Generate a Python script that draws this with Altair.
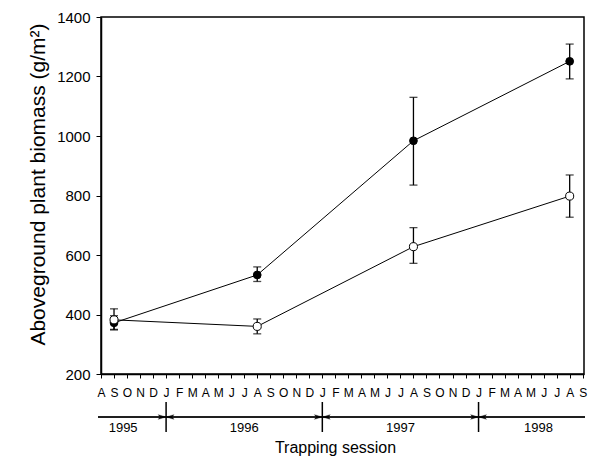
import altair as alt
import pandas as pd

# ---- data ----
months = ["A", "S", "O", "N", "D",
          "J", "F", "M", "A", "M", "J", "J", "A", "S", "O", "N", "D",
          "J", "F", "M", "A", "M", "J", "J", "A", "S", "O", "N", "D",
          "J", "F", "M", "A", "M", "J", "J", "A", "S"]
session_idx = [1, 12, 24, 36]          # Sep 1995, Aug 1996, Aug 1997, Aug 1998
filled_mean = [372, 533, 984, 1251]
filled_lo = [350, 511, 835, 1192]
filled_hi = [396, 560, 1130, 1309]
open_mean = [382, 360, 628, 798]
open_lo = [348, 335, 572, 727]
open_hi = [419, 385, 692, 869]
years = ["1995", "1996", "1997", "1998"]
year_label_idx = [1.7, 11, 23, 33.6]
year_breaks = [5, 17, 29]
y_ticks = [200, 400, 600, 800, 1000, 1200, 1400]

FONT = "Arial, Liberation Sans, sans-serif"
W, H = 483, 357

filled_df = pd.DataFrame({"idx": session_idx, "mean": filled_mean, "lo": filled_lo, "hi": filled_hi})
open_df = pd.DataFrame({"idx": session_idx, "mean": open_mean, "lo": open_lo, "hi": open_hi})
years_df = pd.DataFrame({"idx": year_label_idx, "year": years})
breaks_df = pd.DataFrame({"idx": year_breaks})

x_scale = alt.Scale(domain=[0, 37.1], nice=False, zero=False)
y_scale = alt.Scale(domain=[200, 1400], nice=False, zero=False)

label_expr = "[" + ",".join("'" + m + "'" for m in months) + "][datum.value]"

x_axis = alt.Axis(
    values=list(range(len(months))), labelExpr=label_expr, labelFontSize=12,
    labelPadding=9, tickSize=4, labelFlush=False, labelOverlap=False, labelAngle=0,
    title="Trapping session", titleFontSize=16, titleFontWeight="normal",
    titleX=234, titleY=78, titleBaseline="alphabetic", titleAlign="center",
    domainColor="black", tickColor="black", labelColor="black", titleColor="black",
    domainWidth=1.5, grid=False,
)
y_axis = alt.Axis(
    values=y_ticks, format="d", labelFontSize=15, labelPadding=6, tickSize=5,
    title="Aboveground plant biomass (g/m²)", titleFontSize=21, titleFontWeight="normal",
    titleX=-57, titleY=167, titleAngle=-90, titleBaseline="alphabetic", titleAlign="center",
    domainColor="black", tickColor="black", labelColor="black", titleColor="black",
    domainWidth=1.5, grid=False,
)

X = alt.X("idx:Q", scale=x_scale, axis=x_axis, title="Trapping session")


def Yf(field):
    return alt.Y(field + ":Q", scale=y_scale, axis=y_axis, title="Aboveground plant biomass (g/m²)")


filled_line = alt.Chart(filled_df).mark_line(color="black", strokeWidth=1).encode(x=X, y=Yf("mean"))
open_line = alt.Chart(open_df).mark_line(color="black", strokeWidth=1).encode(x=X, y=Yf("mean"))


def errbars(df):
    rule = alt.Chart(df).mark_rule(color="black", strokeWidth=1.3).encode(
        x=X, y=Yf("lo"), y2="hi:Q")
    cap_lo = alt.Chart(df).mark_tick(orient="horizontal", size=8, thickness=1.3, color="black").encode(
        x=X, y=Yf("lo"))
    cap_hi = alt.Chart(df).mark_tick(orient="horizontal", size=8, thickness=1.3, color="black").encode(
        x=X, y=Yf("hi"))
    return rule + cap_lo + cap_hi


filled_pts = alt.Chart(filled_df).mark_point(
    shape="circle", filled=True, fill="black", stroke="black", strokeWidth=1, size=60, opacity=1
).encode(x=X, y=Yf("mean"))
open_pts = alt.Chart(open_df).mark_point(
    shape="circle", filled=True, fill="white", stroke="black", strokeWidth=1, size=65, opacity=1
).encode(x=X, y=Yf("mean"))

# ---- year band below the axis ----
band_line = alt.Chart(breaks_df).mark_rule(color="black", strokeWidth=1).encode(
    x=alt.value(-3), x2=alt.value(W + 1), y=alt.value(400))
dividers = alt.Chart(breaks_df).mark_rule(color="black", strokeWidth=1.5).encode(
    x=X, y=alt.value(385), y2=alt.value(415))
arrow_r = alt.Chart(breaks_df).mark_point(
    shape="M0,0L-1,-0.3L-0.75,0L-1,0.3Z", filled=True, fill="black", stroke="black",
    strokeWidth=0.3, size=250, opacity=1
).encode(x=X, y=alt.value(400))
arrow_l = alt.Chart(breaks_df).mark_point(
    shape="M0,0L1,-0.3L0.75,0L1,0.3Z", filled=True, fill="black", stroke="black",
    strokeWidth=0.3, size=250, opacity=1
).encode(x=X, y=alt.value(400))
year_text = alt.Chart(years_df).mark_text(
    fontSize=13, baseline="alphabetic", align="center", color="black", font=FONT
).encode(x=X, y=alt.value(415), text="year:N")

chart = alt.layer(
    filled_line, open_line,
    errbars(filled_df), filled_pts,
    errbars(open_df), open_pts,
    band_line, dividers, arrow_r, arrow_l, year_text,
).properties(
    width=W, height=H,
    autosize=alt.AutoSizeParams(type="none"),
    padding={"left": 93, "top": 9, "right": 8, "bottom": 88},
).configure(
    font=FONT,
).configure_view(
    stroke="black", strokeWidth=1.5,
)

chart.save("out.html", embed_options={"renderer": "svg", "actions": False})
